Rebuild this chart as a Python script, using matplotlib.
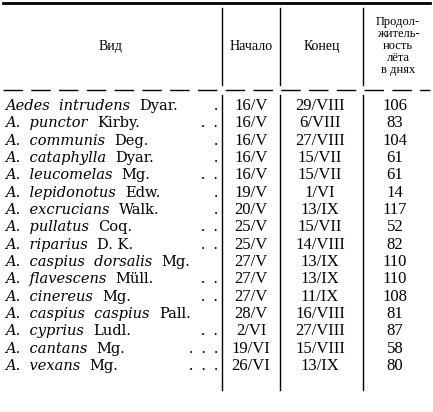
import matplotlib
matplotlib.use("Agg")
import matplotlib.pyplot as plt

italic_names = ["Aedes intrudens", "A. punctor", "A. communis", "A. cataphylla", "A. leucomelas",
                "A. lepidonotus", "A. excrucians", "A. pullatus", "A. riparius", "A. caspius dorsalis",
                "A. flavescens", "A. cinereus", "A. caspius caspius", "A. cyprius", "A. cantans", "A. vexans"]
authors = ["Dyar.", "Kirby.", "Deg.", "Dyar.", "Mg.", "Edw.", "Walk.", "Coq.", "D. K.", "Mg.",
           "Müll.", "Mg.", "Pall.", "Ludl.", "Mg.", "Mg."]
dots = [".", ".  .", ".", ".", ".  .", ".", ".", ".  .", ".  .", "",
        ".  .", ".  .", "", ".  .", ".  .  .", ".  .  ."]
starts = ["16/V", "16/V", "16/V", "16/V", "16/V", "19/V", "20/V", "25/V", "25/V", "27/V",
          "27/V", "27/V", "28/V", "2/VI", "19/VI", "26/VI"]
ends = ["29/VIII", "6/VIII", "27/VIII", "15/VII", "15/VII", "1/VI", "13/IX", "15/VII", "14/VIII", "13/IX",
        "13/IX", "11/IX", "16/VIII", "27/VIII", "15/VIII", "13/IX"]
days = ["106", "83", "104", "61", "61", "14", "117", "52", "82", "110", "110", "108", "81", "87", "58", "80"]

fig = plt.figure(figsize=(4.33, 4.12), dpi=100)
ax = fig.add_axes([0, 0, 1, 1])
ax.set_xlim(0, 433); ax.set_ylim(412, 0); ax.axis("off")
fam = "Liberation Serif"
nfam = "DejaVu Serif"
fs = 12

ax.plot([3, 430], [3, 3], color="k", lw=2)
ax.plot([3, 430], [90, 90], color="k", lw=1, ls=(0, (14, 6)))
for x, a, b in [(222, 8, 85), (280, 8, 85), (363, 8, 85),
                (222, 95, 390), (280, 95, 390), (363, 95, 390)]:
    ax.plot([x, x], [a, b], color="k", lw=1)

ax.text(110, 46, "Вид", family=fam, fontsize=10, ha="center", va="center")
ax.text(251, 46, "Начало", family=fam, fontsize=10, ha="center", va="center")
ax.text(322, 46, "Конец", family=fam, fontsize=10, ha="center", va="center")
ax.text(398, 46, "Продол-\nжитель-\nность\nлёта\nв днях", family=fam, fontsize=9,
        ha="center", va="center", linespacing=1.0)

fig.canvas.draw()
r = fig.canvas.get_renderer()
inv = ax.transData.inverted()
y0, dy = 106, 17.33
for i in range(len(italic_names)):
    y = y0 + i * dy
    t = ax.text(5, y, italic_names[i].replace(" ", "  ") + "  ", family=nfam, style="italic",
                fontsize=10.5, va="center")
    bb = t.get_window_extent(r)
    xe = inv.transform((bb.x1, bb.y0))[0]
    ax.text(xe, y, authors[i], family=nfam, fontsize=10.5, va="center")
    if dots[i]:
        ax.text(218, y, dots[i], family=fam, fontsize=fs, va="center", ha="right")
    ax.text(251, y, starts[i], family=fam, fontsize=fs, va="center", ha="center")
    ax.text(320, y, ends[i], family=fam, fontsize=fs, va="center", ha="center")
    ax.text(395, y, days[i], family=fam, fontsize=fs, va="center", ha="center")

fig.savefig("out.png", dpi=100)
